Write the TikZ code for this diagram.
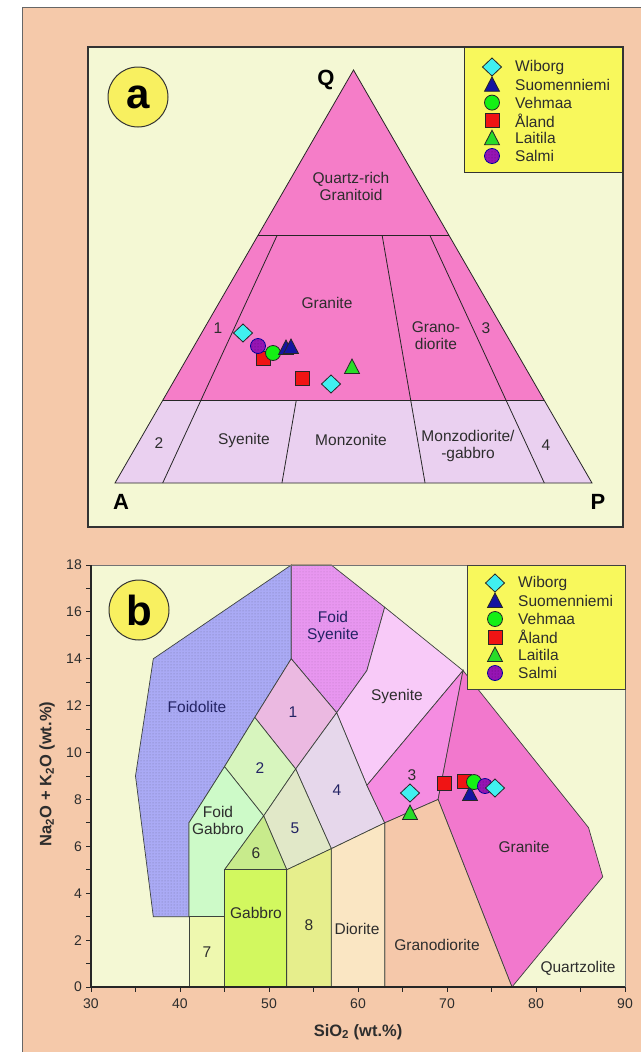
\documentclass[tikz,border=0pt]{standalone}
\usepackage{fontspec}
\setmainfont{Liberation Sans}
\usetikzlibrary{calc,patterns}
\definecolor{peach}{RGB}{245,201,170}
\definecolor{plotbg}{RGB}{244,248,212}
\definecolor{legy}{RGB}{248,248,92}
\definecolor{circy}{RGB}{248,240,96}
\definecolor{qpink}{RGB}{245,125,200}
\definecolor{qlav}{RGB}{234,208,240}
\definecolor{txt}{RGB}{45,45,45}
\definecolor{txtb}{RGB}{35,35,100}
\definecolor{edge}{RGB}{60,66,60}
\definecolor{cfoidolite}{RGB}{170,170,245}
\definecolor{cfoidsyen}{RGB}{232,150,240}
\definecolor{csyen}{RGB}{248,202,248}
\definecolor{cone}{RGB}{235,185,225}
\definecolor{ctwo}{RGB}{215,245,190}
\definecolor{cfoidgab}{RGB}{205,250,200}
\definecolor{cfour}{RGB}{230,215,235}
\definecolor{cfive}{RGB}{225,232,200}
\definecolor{csix}{RGB}{200,235,140}
\definecolor{cthree}{RGB}{245,140,225}
\definecolor{cgranite}{RGB}{242,120,205}
\definecolor{cgrd}{RGB}{245,200,170}
\definecolor{cdior}{RGB}{250,230,195}
\definecolor{ceight}{RGB}{230,238,140}
\definecolor{cgabbro}{RGB}{210,248,95}
\definecolor{cseven}{RGB}{238,248,175}
\definecolor{mcyan}{RGB}{64,240,240}
\definecolor{mnavy}{RGB}{20,20,160}
\definecolor{mgreen}{RGB}{20,240,20}
\definecolor{mred}{RGB}{240,20,20}
\definecolor{mlgreen}{RGB}{40,220,40}
\definecolor{mpurple}{RGB}{150,20,180}
\tikzset{
  mk/.style={line width=0.8pt, draw=black!85},
  wib/.pic={\path[mk, fill=mcyan] (-9.5pt,0pt) -- (0pt,-9pt) -- (9.5pt,0pt) -- (0pt,9pt) -- cycle;},
  suo/.pic={\path[mk, fill=mnavy] (-7.5pt,-6.5pt) -- (7.5pt,-6.5pt) -- (0pt,8pt) -- cycle;},
  veh/.pic={\path[mk, fill=mgreen] (0pt,0pt) circle[radius=7.5pt];},
  ala/.pic={\path[mk, fill=mred] (-7pt,-7pt) rectangle (7pt,7pt);},
  lai/.pic={\path[mk, fill=mlgreen] (-7.5pt,-6.5pt) -- (7.5pt,-6.5pt) -- (0pt,8pt) -- cycle;},
  sal/.pic={\path[mk, draw=blue!60!black, fill=mpurple] (0pt,0pt) circle[radius=7.5pt];
            \path[pattern=dots, pattern color=mpurple!60!black] (0pt,0pt) circle[radius=6.5pt];},
  lbl/.style={font=\fontsize{15.5}{17}\selectfont, text=txt, align=center, inner sep=0pt},
  lblb/.style={lbl, text=txtb},
  legt/.style={font=\fontsize{15.5}{17}\selectfont, text=txt, anchor=west, inner sep=0pt},
  corner/.style={font=\bfseries\fontsize{22}{22}\selectfont, text=black, inner sep=0pt},
  bigl/.style={circle, draw=black!80, line width=1pt, fill=circy, minimum size=60pt, inner sep=0pt, font=\bfseries\fontsize{42}{42}\selectfont},
  qline/.style={draw=black!85, line width=0.8pt},
  reg/.style={draw=edge, line width=0.7pt},
  tick/.style={font=\fontsize{14}{14}\selectfont, text=txt, inner sep=0pt},
  axl/.style={font=\bfseries\fontsize{16.5}{16.5}\selectfont, text=txt, inner sep=0pt},
}
\begin{document}
\begin{tikzpicture}[x=1pt,y=-1pt]
\useasboundingbox (0,0) rectangle (641,1052);
\fill[white] (0,0) rectangle (641,1052);
% peach background
\fill[peach] (22,7) rectangle (641,1052);
\draw[black!60, line width=0.8pt] (22,1052) -- (22,7) -- (641,7);

% ================= panel a =================
\fill[plotbg] (88,47) rectangle (623,527);
\coordinate (A) at (115,483);
\coordinate (P) at (592,483);
\coordinate (Q) at (353.5,70);
\coordinate (L6) at ($(A)!0.6!(Q)$);
\coordinate (R6) at ($(P)!0.6!(Q)$);
\coordinate (L2) at ($(A)!0.2!(Q)$);
\coordinate (R2) at ($(P)!0.2!(Q)$);
\fill[qpink] (Q) -- (L6) -- (R6) -- cycle;
\fill[qpink] (L6) -- (R6) -- (R2) -- (L2) -- cycle;
\fill[qlav] (L2) -- (R2) -- (P) -- (A) -- cycle;
\draw[qline] (Q) -- (A) -- (P) -- cycle;
\draw[qline] (L6) -- (R6);
\draw[qline] (L2) -- (R2);
\coordinate (B10) at ($(A)!0.10!(P)$);
\coordinate (B35) at ($(A)!0.35!(P)$);
\coordinate (B65) at ($(A)!0.65!(P)$);
\coordinate (B90) at ($(A)!0.90!(P)$);
\draw[qline] ($(B10)!0.6!(Q)$) -- (B10);
\draw[qline] ($(B65)!0.6!(Q)$) -- (B65);
\draw[qline] ($(B90)!0.6!(Q)$) -- (B90);
\draw[qline] ($(B35)!0.2!(Q)$) -- (B35);

\node[corner] (lQ) at (326,80) {Q};
\node[corner] (lA) at (121,502) {A};
\node[corner] (lP) at (598,502) {P};

\node[lbl] (qrg) at (351,186) {Quartz-rich\\Granitoid};
\node[lbl] (gra) at (327,303) {Granite};
\node[lbl] (a1) at (218,328) {1};
\node[lbl] (grd) at (436,336) {Grano-\\diorite};
\node[lbl] (a3) at (486,328) {3};
\node[lbl] (a2) at (159,443) {2};
\node[lbl] (sye) at (244,440) {Syenite};
\node[lbl] (mzn) at (351,440) {Monzonite};
\node[lbl] (mzd) at (468,446) {Monzodiorite/\\-gabbro};
\node[lbl] (a4) at (546,445) {4};

% data points panel a
\pic at (263,358) {ala};
\pic at (258,346) {sal};
\pic at (273,353) {veh};
\pic at (286,348) {suo};
\pic at (291,347) {suo};
\pic at (243,333) {wib};
\pic at (302,378) {ala};
\pic at (331,384) {wib};
\pic at (352,367) {lai};

% legend a
\filldraw[fill=legy, draw=black!80, line width=1pt] (464,47) rectangle (623,172);
\draw[black!80, line width=1.2pt] (88,47) rectangle (623,527);
\foreach \i/\p/\t in {0/wib/Wiborg,1/suo/Suomenniemi,2/veh/Vehmaa,3/ala/Åland,4/lai/Laitila,5/sal/Salmi}{
  \pic at (492,67+17.8*\i) {\p};
  \node[legt] (la\i) at (515,67+17.8*\i) {\t};
}
\node[bigl] (circa) at (138,97) {a};

% ================= panel b =================
\fill[plotbg] (91,565) rectangle (625,987);
\begin{scope}[shift={(-176,987)}, x=8.9pt, y=23.444pt]
  \filldraw[reg, fill=cfoidolite] (35,9) -- (37,14) -- (52.5,18) -- (52.5,14) -- (48.4,11.5) -- (45,9.4) -- (41,7) -- (41,3) -- (37,3) -- cycle;
  \fill[pattern=dots, pattern color=cfoidolite!70!black] (35,9) -- (37,14) -- (52.5,18) -- (52.5,14) -- (48.4,11.5) -- (45,9.4) -- (41,7) -- (41,3) -- (37,3) -- cycle;
  \filldraw[reg, fill=cfoidsyen] (52.5,14) -- (52.5,18) -- (57,18) -- (63,16.2) -- (61,13.5) -- (57.6,11.7) -- cycle;
  \fill[pattern=dots, pattern color=cfoidsyen!80!black] (52.5,14) -- (52.5,18) -- (57,18) -- (63,16.2) -- (61,13.5) -- (57.6,11.7) -- cycle;
  \filldraw[reg, fill=csyen] (57.6,11.7) -- (61,13.5) -- (63,16.2) -- (71.8,13.5) -- (61,8.6) -- cycle;
  \filldraw[reg, fill=cone] (52.5,14) -- (57.6,11.7) -- (53,9.3) -- (48.4,11.5) -- cycle;
  \filldraw[reg, fill=ctwo] (48.4,11.5) -- (53,9.3) -- (49.4,7.3) -- (45,9.4) -- cycle;
  \filldraw[reg, fill=cfoidgab] (41,3) -- (41,7) -- (45,9.4) -- (49.4,7.3) -- (45,5) -- (45,3) -- cycle;
  \filldraw[reg, fill=cfour] (53,9.3) -- (57.6,11.7) -- (61,8.6) -- (63,7) -- (57,5.9) -- cycle;
  \filldraw[reg, fill=cfive] (49.4,7.3) -- (53,9.3) -- (57,5.9) -- (52,5) -- cycle;
  \filldraw[reg, fill=csix] (45,5) -- (49.4,7.3) -- (52,5) -- cycle;
  \filldraw[reg, fill=cthree] (63,7) -- (61,8.6) -- (71.8,13.5) -- (69,8) -- cycle;
  \filldraw[reg, fill=cgranite] (69,8) -- (71.8,13.5) -- (85.9,6.8) -- (87.5,4.7) -- (77.3,0) -- cycle;
  \filldraw[reg, fill=cgrd] (63,0) -- (63,7) -- (69,8) -- (77.3,0) -- cycle;
  \filldraw[reg, fill=cdior] (57,0) -- (57,5.9) -- (63,7) -- (63,0) -- cycle;
  \filldraw[reg, fill=ceight] (52,0) -- (52,5) -- (57,5.9) -- (57,0) -- cycle;
  \filldraw[reg, fill=cgabbro] (45,0) -- (45,5) -- (52,5) -- (52,0) -- cycle;
  \filldraw[reg, fill=cseven] (41,0) -- (41,3) -- (45,3) -- (45,0) -- cycle;
  % frame and axes
  \draw[black!55, line width=1pt] (30,18) -- (90,18) -- (90,0);
  \draw[black!85, line width=1.1pt] (30,18) -- (30,0) -- (90,0);
  \foreach \n in {0,...,18} \draw[black!85, line width=0.9pt] (30,\n) -- ++(-5pt,0pt);
  \foreach \s in {30,35,...,90} \draw[black!85, line width=0.9pt] (\s,0) -- ++(0pt,-5pt);
  \foreach \n in {0,2,...,18} \node[tick, anchor=east, xshift=-9pt] (yl\n) at (30,\n) {\n};
  \foreach \s in {30,40,...,90} \node[tick, yshift=-17pt] (xl\s) at (\s,0) {\s};
\end{scope}

\node[axl, rotate=90] (ylab) at (47,774) {Na\textsubscript{2}O + K\textsubscript{2}O (wt.\%)};
\node[axl] (xlab) at (358,1032) {SiO\textsubscript{2} (wt.\%)};

% region labels b
\node[lblb] (bfoid) at (197,707) {Foidolite};
\node[lblb] (bfsy) at (333,627) {Foid\\Syenite};
\node[lbl] (bsye) at (397,696) {Syenite};
\node[lblb] (b1) at (293,712) {1};
\node[lblb] (b2) at (260,768) {2};
\node[lblb] (b4) at (337,790) {4};
\node[lbl] (bfg) at (218,820) {Foid\\Gabbro};
\node[lblb] (b5) at (295,828) {5};
\node[lbl] (b6) at (256,853) {6};
\node[lbl] (bgab) at (256,913) {Gabbro};
\node[lbl] (b7) at (207,952) {7};
\node[lbl] (b8) at (309,925) {8};
\node[lbl] (bdio) at (357,929) {Diorite};
\node[lbl] (bgrd) at (437,945) {Granodiorite};
\node[lbl] (b3) at (412,775) {3};
\node[lbl] (bgra) at (524,847) {Granite};
\node[lbl] (bqz) at (578,968) {Quartzolite};

% data points panel b
\pic at (410,813) {lai};
\pic at (410,793) {wib};
\pic at (444,783) {ala};
\pic at (464,781) {ala};
\pic at (470,794) {suo};
\pic at (474,782) {veh};
\pic at (485,786) {sal};
\pic at (495,788) {wib};

% legend b
\filldraw[fill=legy, draw=black!75, line width=1pt] (467,565) rectangle (625,689);
\foreach \i/\p/\t in {0/wib/Wiborg,1/suo/Suomenniemi,2/veh/Vehmaa,3/ala/Åland,4/lai/Laitila,5/sal/Salmi}{
  \pic at (495,583+18*\i) {\p};
  \node[legt] (lb\i) at (518,583+18*\i) {\t};
}
\node[bigl] (circb) at (139,610) {b};
\end{tikzpicture}
\end{document}
